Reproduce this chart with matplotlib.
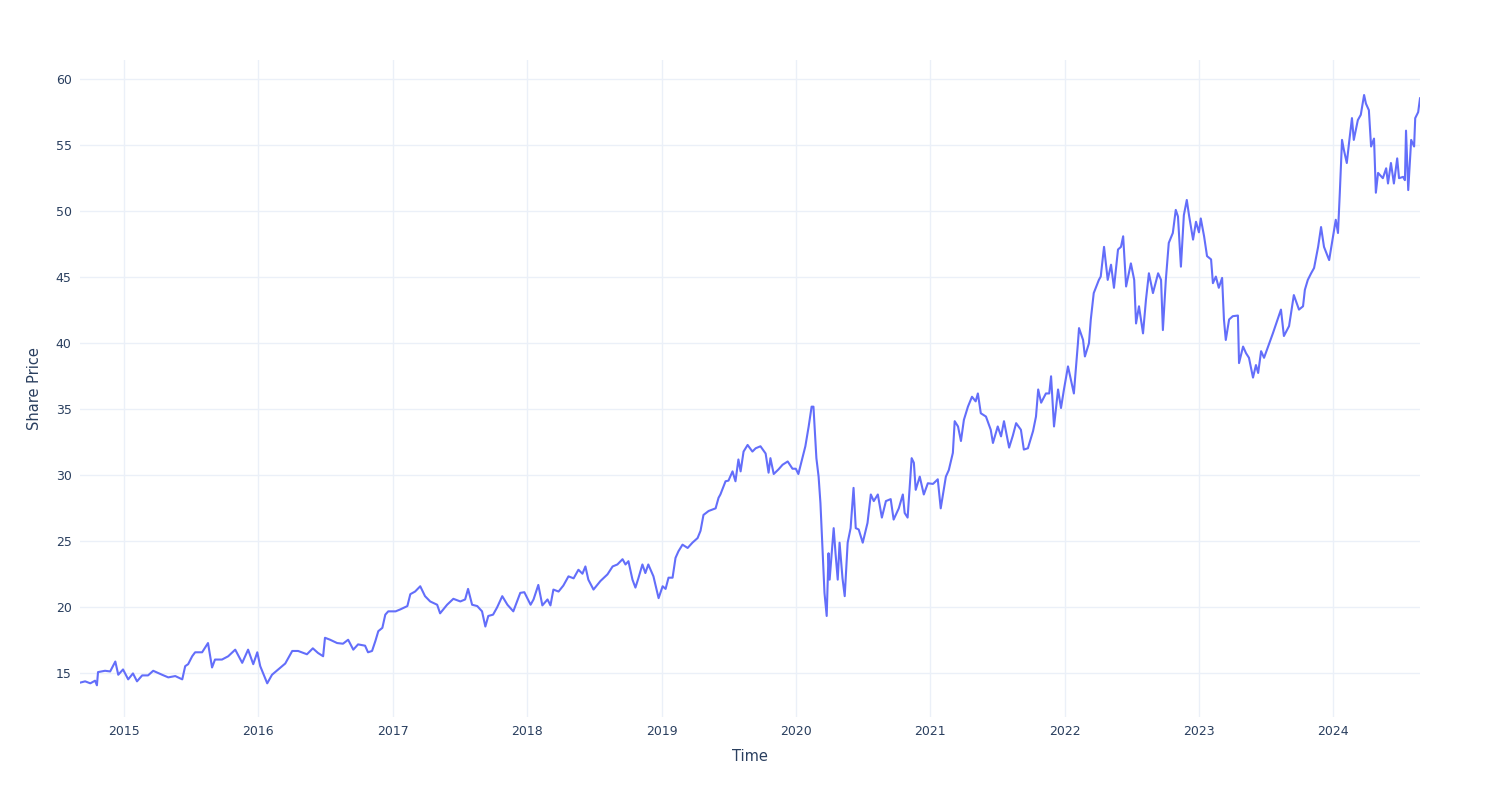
import pandas as pd
import matplotlib
matplotlib.use("Agg")
import matplotlib.pyplot as plt
import matplotlib.dates as mdates

# share price (approximate trace)
dates = [
    "2014-09-03", "2014-09-17", "2014-10-01", "2014-10-14", "2014-10-19", "2014-10-22",
    "2014-11-10", "2014-11-24", "2014-12-08", "2014-12-16", "2014-12-29",
    "2015-01-12", "2015-01-25", "2015-02-05", "2015-02-19", "2015-03-07", "2015-03-21",
    "2015-04-14", "2015-05-01", "2015-05-20", "2015-06-08", "2015-06-16", "2015-06-24",
    "2015-07-05", "2015-07-13", "2015-08-01", "2015-08-17", "2015-08-28", "2015-09-05",
    "2015-09-24", "2015-10-11", "2015-10-30", "2015-11-18", "2015-12-04", "2015-12-18",
    "2015-12-29",
    "2016-01-06", "2016-01-25", "2016-02-07", "2016-02-24", "2016-03-14", "2016-04-02",
    "2016-04-18", "2016-05-12", "2016-05-28", "2016-06-11", "2016-06-25", "2016-06-30",
    "2016-07-14", "2016-08-02", "2016-08-18", "2016-09-01", "2016-09-15", "2016-09-28",
    "2016-10-17", "2016-10-25", "2016-11-05", "2016-11-14", "2016-11-22", "2016-12-03",
    "2016-12-11", "2016-12-19",
    "2017-01-08", "2017-01-21", "2017-02-09", "2017-02-17", "2017-03-02", "2017-03-16",
    "2017-03-29", "2017-04-12", "2017-05-01", "2017-05-09", "2017-05-28", "2017-06-14",
    "2017-07-03", "2017-07-16", "2017-07-24", "2017-08-04", "2017-08-18", "2017-08-31",
    "2017-09-09", "2017-09-17", "2017-09-30", "2017-10-11", "2017-10-25", "2017-11-08",
    "2017-11-24", "2017-12-13", "2017-12-24",
    "2018-01-10", "2018-01-18", "2018-01-31", "2018-02-11", "2018-02-25", "2018-03-05",
    "2018-03-13", "2018-03-27", "2018-04-09", "2018-04-23", "2018-05-07", "2018-05-20",
    "2018-05-31", "2018-06-08", "2018-06-16", "2018-06-30", "2018-07-19", "2018-08-07",
    "2018-08-21", "2018-09-03", "2018-09-17", "2018-09-25", "2018-10-03", "2018-10-14",
    "2018-10-22", "2018-10-30", "2018-11-10", "2018-11-18", "2018-11-26", "2018-12-10",
    "2018-12-24",
    "2019-01-04", "2019-01-12", "2019-01-20", "2019-01-31", "2019-02-08", "2019-02-16",
    "2019-02-27", "2019-03-13", "2019-03-26", "2019-04-09", "2019-04-17", "2019-04-25",
    "2019-05-09", "2019-05-28", "2019-06-05", "2019-06-10", "2019-06-24", "2019-07-02",
    "2019-07-13", "2019-07-21", "2019-07-29", "2019-08-04", "2019-08-12", "2019-08-23",
    "2019-09-05", "2019-09-14", "2019-09-27", "2019-10-11", "2019-10-19", "2019-10-24",
    "2019-11-02", "2019-11-15", "2019-11-26", "2019-12-10", "2019-12-23",
    "2020-01-01", "2020-01-08", "2020-01-19", "2020-01-27", "2020-02-05", "2020-02-13",
    "2020-02-18", "2020-02-26", "2020-03-03", "2020-03-08", "2020-03-16", "2020-03-19",
    "2020-03-25", "2020-03-30", "2020-04-02", "2020-04-13", "2020-04-18", "2020-04-24",
    "2020-04-29", "2020-05-07", "2020-05-13", "2020-05-21", "2020-05-29", "2020-06-06",
    "2020-06-12", "2020-06-20", "2020-07-01", "2020-07-14", "2020-07-23", "2020-07-31",
    "2020-08-11", "2020-08-22", "2020-09-02", "2020-09-15", "2020-09-23", "2020-10-07",
    "2020-10-18", "2020-10-23", "2020-10-31", "2020-11-11", "2020-11-17", "2020-11-22",
    "2020-12-03", "2020-12-14", "2020-12-25",
    "2021-01-08", "2021-01-21", "2021-01-29", "2021-02-12", "2021-02-20", "2021-03-03",
    "2021-03-08", "2021-03-17", "2021-03-25", "2021-04-02", "2021-04-13", "2021-04-24",
    "2021-05-04", "2021-05-10", "2021-05-18", "2021-06-01", "2021-06-14", "2021-06-20",
    "2021-07-03", "2021-07-12", "2021-07-20", "2021-08-03", "2021-08-13", "2021-08-22",
    "2021-09-04", "2021-09-12", "2021-09-23", "2021-10-07", "2021-10-15", "2021-10-21",
    "2021-10-29", "2021-11-11", "2021-11-20", "2021-11-25", "2021-12-03", "2021-12-14",
    "2021-12-22", "2021-12-30",
    "2022-01-10", "2022-01-21", "2022-01-26", "2022-02-06", "2022-02-09", "2022-02-20",
    "2022-02-25", "2022-03-08", "2022-03-13", "2022-03-21", "2022-04-04", "2022-04-09",
    "2022-04-18", "2022-04-28", "2022-05-07", "2022-05-15", "2022-05-26", "2022-06-03",
    "2022-06-09", "2022-06-17", "2022-06-30", "2022-07-09", "2022-07-14", "2022-07-22",
    "2022-08-02", "2022-08-10", "2022-08-18", "2022-08-29", "2022-09-12", "2022-09-20",
    "2022-09-25", "2022-10-03", "2022-10-11", "2022-10-22", "2022-10-30", "2022-11-05",
    "2022-11-13", "2022-11-21", "2022-11-29", "2022-12-05", "2022-12-16", "2022-12-24",
    "2023-01-01", "2023-01-06", "2023-01-15", "2023-01-23", "2023-02-03", "2023-02-08",
    "2023-02-16", "2023-02-24", "2023-03-05", "2023-03-10", "2023-03-15", "2023-03-24",
    "2023-04-03", "2023-04-17", "2023-04-20", "2023-05-01", "2023-05-09", "2023-05-17",
    "2023-05-28", "2023-06-05", "2023-06-11", "2023-06-19", "2023-06-27", "2023-07-10",
    "2023-07-21", "2023-07-29", "2023-08-12", "2023-08-20", "2023-09-03", "2023-09-16",
    "2023-09-30", "2023-10-11", "2023-10-16", "2023-10-24", "2023-11-02", "2023-11-10",
    "2023-11-21", "2023-11-29", "2023-12-07", "2023-12-21",
    "2024-01-02", "2024-01-08", "2024-01-14", "2024-01-19", "2024-01-25", "2024-01-30",
    "2024-02-07", "2024-02-13", "2024-02-21", "2024-02-26", "2024-03-08", "2024-03-16",
    "2024-03-25", "2024-03-30", "2024-04-07", "2024-04-13", "2024-04-21", "2024-04-26",
    "2024-05-02", "2024-05-15", "2024-05-24", "2024-05-29", "2024-06-06", "2024-06-14",
    "2024-06-23", "2024-06-28", "2024-07-09", "2024-07-14", "2024-07-17", "2024-07-23",
    "2024-07-31", "2024-08-08", "2024-08-11", "2024-08-19", "2024-08-24",
]

prices = [
    14.3, 14.4, 14.25, 14.45, 14.1, 15.1,
    15.2, 15.15, 15.9, 14.9, 15.3,
    14.55, 15.0, 14.4, 14.85, 14.85, 15.2,
    14.9, 14.7, 14.8, 14.55, 15.55, 15.7,
    16.3, 16.6, 16.6, 17.3, 15.45, 16.05,
    16.05, 16.3, 16.8, 15.8, 16.8, 15.7,
    16.6,
    15.55, 14.25, 14.9, 15.3, 15.75, 16.7,
    16.7, 16.45, 16.9, 16.55, 16.3, 17.7,
    17.55, 17.3, 17.25, 17.55, 16.8, 17.2,
    17.1, 16.6, 16.7, 17.45, 18.2, 18.45,
    19.45, 19.7,
    19.7, 19.85, 20.1, 21.0, 21.2, 21.6,
    20.85, 20.45, 20.2, 19.55, 20.2, 20.65,
    20.45, 20.6, 21.4, 20.2, 20.1, 19.7,
    18.55, 19.35, 19.45, 20.0, 20.85, 20.2,
    19.7, 21.1, 21.15,
    20.2, 20.6, 21.7, 20.15, 20.6, 20.15,
    21.35, 21.2, 21.65, 22.35, 22.2, 22.85,
    22.55, 23.1, 22.1, 21.35, 22.0, 22.5,
    23.1, 23.25, 23.65, 23.25, 23.5, 22.1,
    21.5, 22.2, 23.25, 22.6, 23.25, 22.35,
    20.7,
    21.6, 21.4, 22.25, 22.25, 23.75, 24.25,
    24.75, 24.5, 24.9, 25.25, 25.8, 27.0,
    27.3, 27.5, 28.3, 28.55, 29.55, 29.6,
    30.3, 29.55, 31.2, 30.3, 31.8, 32.3,
    31.8, 32.05, 32.2, 31.65, 30.2, 31.3,
    30.1, 30.45, 30.8, 31.05, 30.5,
    30.5, 30.1, 31.3, 32.2, 33.7, 35.2,
    35.2, 31.3, 29.9, 27.9, 22.85, 21.1,
    19.35, 24.1, 22.1, 26.0, 24.1, 22.1,
    24.9, 22.2, 20.85, 24.9, 26.0, 29.05,
    26.0, 25.9, 24.9, 26.4, 28.55, 28.05,
    28.55, 26.8, 28.05, 28.2, 26.65, 27.5,
    28.55, 27.15, 26.8, 31.3, 30.95, 28.9,
    29.9, 28.55, 29.4,
    29.35, 29.7, 27.5, 29.9, 30.4, 31.7,
    34.1, 33.7, 32.6, 34.2, 35.2, 35.95,
    35.6, 36.2, 34.7, 34.45, 33.45, 32.45,
    33.7, 32.95, 34.1, 32.1, 33.0, 33.95,
    33.45, 31.95, 32.05, 33.35, 34.45, 36.5,
    35.5, 36.2, 36.2, 37.5, 33.7, 36.5,
    35.1, 36.5,
    38.25, 36.85, 36.2, 40.0, 41.15, 40.25,
    39.0, 40.0, 41.8, 43.8, 44.8, 45.05,
    47.3, 44.8, 45.95, 44.2, 47.1, 47.3,
    48.1, 44.3, 46.05, 44.8, 41.5, 42.8,
    40.75, 43.3, 45.3, 43.8, 45.3, 44.8,
    41.0, 44.8, 47.6, 48.35, 50.1, 49.6,
    45.8, 49.7, 50.85, 49.7, 47.85, 49.2,
    48.4, 49.45, 48.1, 46.6, 46.35, 44.55,
    45.05, 44.2, 44.95, 41.8, 40.25, 41.8,
    42.05, 42.1, 38.5, 39.75, 39.25, 38.9,
    37.4, 38.35, 37.75, 39.4, 38.9, 39.9,
    40.75, 41.4, 42.55, 40.55, 41.3, 43.65,
    42.55, 42.8, 44.05, 44.8, 45.3, 45.7,
    47.3, 48.8, 47.3, 46.3,
    48.35, 49.35, 48.35, 51.4, 55.4, 54.65,
    53.65, 55.15, 57.05, 55.4, 56.9, 57.3,
    58.8, 58.15, 57.65, 54.9, 55.5, 51.4,
    52.9, 52.5, 53.25, 52.1, 53.65, 52.1,
    54.0, 52.5, 52.6, 52.35, 56.1, 51.6,
    55.4, 54.9, 57.05, 57.5, 58.55,
]

x = pd.to_datetime(dates)

text_color = "#2a3f5f"
grid_color = "#ebf0f8"

fig = plt.figure(figsize=(15, 8), dpi=100)
ax = fig.add_axes([80 / 1500, 83 / 800, 1340 / 1500, 657 / 800])

ax.plot(x, prices, color="#636efa", linewidth=1.5)

ax.set_xlim(x[0], x[-1])
ax.set_ylim(11.7, 61.45)
ax.set_yticks([15, 20, 25, 30, 35, 40, 45, 50, 55, 60])
ax.xaxis.set_major_locator(mdates.YearLocator())
ax.xaxis.set_major_formatter(mdates.DateFormatter("%Y"))

ax.grid(True, color=grid_color, linewidth=1)
ax.set_axisbelow(True)
for s in ax.spines.values():
    s.set_visible(False)
ax.tick_params(length=0, labelsize=9, labelcolor=text_color, pad=6)

ax.set_xlabel("Time", fontsize=10.5, color=text_color, labelpad=8)
ax.set_ylabel("Share Price", fontsize=10.5, color=text_color, labelpad=10)

fig.savefig("out.png", dpi=100, facecolor="white")
